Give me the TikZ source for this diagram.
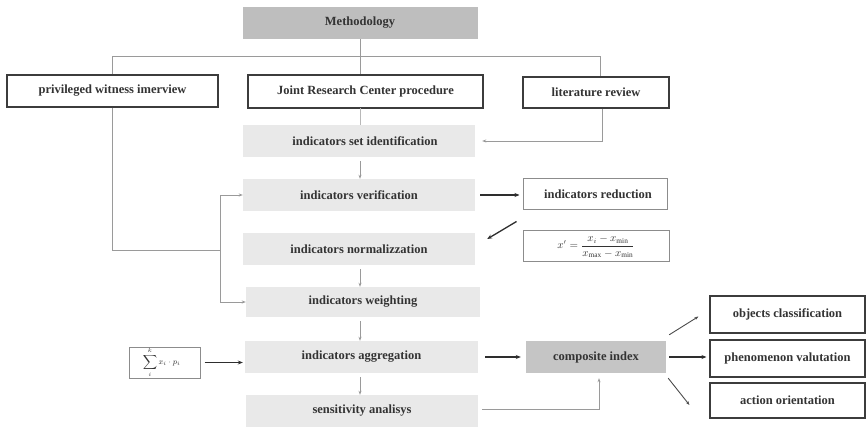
\documentclass[tikz,border=0pt]{standalone}
\usepackage{fontspec}
\setmainfont{Liberation Serif}
\usetikzlibrary{arrows.meta,calc}
\definecolor{lightfill}{HTML}{E9E9E9}
\definecolor{darkfill}{HTML}{BEBEBE}
\definecolor{connc}{HTML}{9A9A9A}
\definecolor{thickc}{HTML}{2E2E2E}
\definecolor{frame}{HTML}{3C3C3C}
\tikzset{
  base/.style={inner sep=0pt, align=center, font=\fontsize{12.5}{14}\selectfont\bfseries, text=black!80},
  graybox/.style={base, fill=lightfill, draw=none},
  headbox/.style={base, fill=darkfill, draw=none},
  thickbox/.style={base, fill=white, draw=frame, line width=1.6pt},
  thinbox/.style={base, fill=white, draw=black!45, line width=1pt},
  outbox/.style={base, fill=white, draw=frame, line width=1.1pt},
  conn/.style={draw=connc, line width=0.9pt},
  carrow/.style={conn, -{Stealth[length=4pt,width=3pt]}},
  tarrow/.style={draw=thickc, line width=1.3pt, -{Stealth[length=5pt,width=4pt]}},
}
\begin{document}
\begin{tikzpicture}[x=1pt,y=-1pt]
\useasboundingbox (0,0) rectangle (866,427);
% nodes
\node[headbox, minimum width=235pt, minimum height=32pt] (meth) at (360,23) {Methodology};
\node[thickbox, minimum width=211pt, minimum height=32pt] (priv) at (112.5,91) {privileged witness imerview};
\node[thickbox, minimum width=235pt, minimum height=33pt] (jrc) at (365.5,91.5) {Joint Research Center procedure};
\node[thickbox, minimum width=146pt, minimum height=31pt] (lit) at (596,92.5) {literature review};
\node[graybox, minimum width=232pt, minimum height=32pt] (set) at (359,141) {\hspace*{12pt}indicators set identification};
\node[graybox, minimum width=232pt, minimum height=32pt] (ver) at (359,195) {indicators verification};
\node[graybox, minimum width=232pt, minimum height=32pt] (norm) at (359,249) {indicators normalizzation};
\node[graybox, minimum width=234pt, minimum height=30pt] (wei) at (363,302) {indicators weighting};
\node[graybox, minimum width=233pt, minimum height=32pt] (agg) at (361.5,357) {indicators aggregation};
\node[graybox, minimum width=232pt, minimum height=32pt] (sens) at (362,411) {sensitivity analisys};
\node[thinbox, minimum width=144pt, minimum height=31pt] (red) at (595,194.5) {\hspace*{6pt}indicators reduction};
\node[thinbox, minimum width=146pt, minimum height=31pt, font=\fontsize{10.5}{11}\selectfont] (form) at (596,246.5)
  {$\displaystyle x' = \frac{x_i - x_{\min}}{x_{\max} - x_{\min}}$};
\node[thinbox, minimum width=71pt, minimum height=31pt, font=\fontsize{8.5}{9}\selectfont] (sig) at (164.5,362.5)
  {$\displaystyle\sum\limits_{i}^{k} x_i \cdot p_i$\hspace*{6pt}};
\node[headbox, fill=darkfill!90, minimum width=140pt, minimum height=32pt] (comp) at (596,357) {composite index};
\node[outbox, minimum width=155pt, minimum height=37pt] (obj) at (787.5,314.5) {objects classification};
\node[outbox, minimum width=155pt, minimum height=37pt] (phen) at (787.5,358.5) {phenomenon valutation};
\node[outbox, minimum width=155pt, minimum height=35pt] (act) at (787.5,400.5) {action orientation};
% top tree
\draw[conn] (meth.south) -- (meth.south |- jrc.north);
\draw[conn] (priv.north) -- ++(0,-18) -| ([xshift=4pt]lit.north);
\draw[conn, draw=connc!70] (set.north -| meth.south) ++(0,-17) -- (set.north -| meth.south);
% left feedback
\coordinate (split) at (220,250);
\draw[conn] (priv.south) |- (split);
\draw[carrow] (split) |- (ver.west);
\draw[carrow] (split) |- (wei.west);
% literature to set
\draw[carrow] ([xshift=6pt]lit.south) |- ([xshift=7pt]set.east);
% vertical flow
\draw[carrow, shorten <=4pt] (set.south -| meth.south) -- (ver.north -| meth.south);
\draw[carrow, shorten <=4pt] (norm.south -| meth.south) -- (wei.north -| meth.south);
\draw[carrow, shorten <=4pt] (wei.south -| meth.south) -- (agg.north -| meth.south);
\draw[carrow, shorten <=4pt] (agg.south -| meth.south) -- (sens.north -| meth.south);
% reduction branch
\draw[tarrow, shorten <=5pt, shorten >=3pt] (ver.east) -- (ver.east -| red.west);
\draw[tarrow] ($(red.south west)+(-6,11)$) -- ($(norm.east)+(12,-10)$);
% aggregation
\draw[tarrow, shorten <=4pt, shorten >=2pt] (sig.east) -- (sig.east -| agg.west);
\draw[tarrow, shorten <=7pt, shorten >=5pt] (agg.east) -- (agg.east -| comp.west);
\draw[carrow, shorten >=5pt] ([xshift=4pt,yshift=2pt]sens.east) -| ([xshift=3pt]comp.south);
% outputs
\draw[carrow, draw=black!70] ($(comp.north east)+(3,-6)$) -- ($(obj.west)+(-11,2)$);
\draw[tarrow, shorten <=3pt, shorten >=3pt] (comp.east) -- (comp.east -| phen.west);
\draw[carrow, draw=black!70] ($(comp.south east)+(2,5)$) -- ($(act.west)+(-20,4.5)$);
\end{tikzpicture}
\end{document}
